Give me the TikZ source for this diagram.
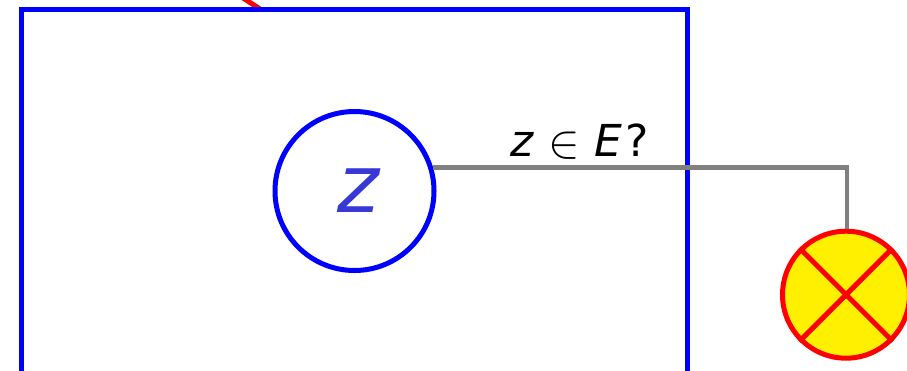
\documentclass[tikz,border=0pt]{standalone}
\usepackage{fontspec}
\newfontfamily\djsans{DejaVu Sans}
\definecolor{zblue}{RGB}{56,56,214}
\definecolor{lampyellow}{RGB}{255,240,0}
\tikzset{
  x=1pt,y=-1pt,
  frame/.style={draw=blue,line width=5pt},
  zcircle/.style={circle,draw=blue,line width=5pt,minimum size=159pt,inner sep=0pt,text=zblue,font=\fontsize{80}{80}\djsans\itshape},
  lamp/.style={circle,draw=red,fill=lampyellow,line width=5pt,minimum size=127pt,inner sep=0pt},
  wire/.style={draw=gray,line width=4.6pt},
  cross/.style={draw=red,line width=5pt},
  stub/.style={draw=red,line width=5pt},
  lbl/.style={inner sep=0pt,anchor=base west,font=\fontsize{44}{44}\djsans\itshape}
}
\begin{document}
\begin{tikzpicture}
\useasboundingbox (0,0) rectangle (907,370);
\clip (0,0) rectangle (907,370);
\coordinate (fbl) at (21.7,380);
\coordinate (ftl) at (21.7,9);
\coordinate (ftr) at (687.7,9);
\coordinate (fbr) at (687.7,380);
\coordinate (stubA) at (260,9);
\coordinate (stubB) at (240,-4);
\draw[stub] (stubB) -- (stubA);
\draw[frame] (fbl) -- (ftl) -- (ftr) -- (fbr);
\node[lamp] (l) at (846,294.7) {};
\coordinate (bend) at (847,167.5);
\node[zcircle] (z) at (354.5,191) {\hspace{8pt}z};
\draw[wire] (z.17 |- bend) -- (bend) -- (l.north -| bend);
\draw[cross] (l.45) -- (l.225);
\draw[cross] (l.135) -- (l.315);
\node[lbl] (q) at (510,156) {z\hspace{15pt}\raisebox{-1.5pt}{\scalebox{1.9}{$\in$}}\hspace{15pt}E\hspace{3pt}{\upshape ?}};
\end{tikzpicture}
\end{document}
